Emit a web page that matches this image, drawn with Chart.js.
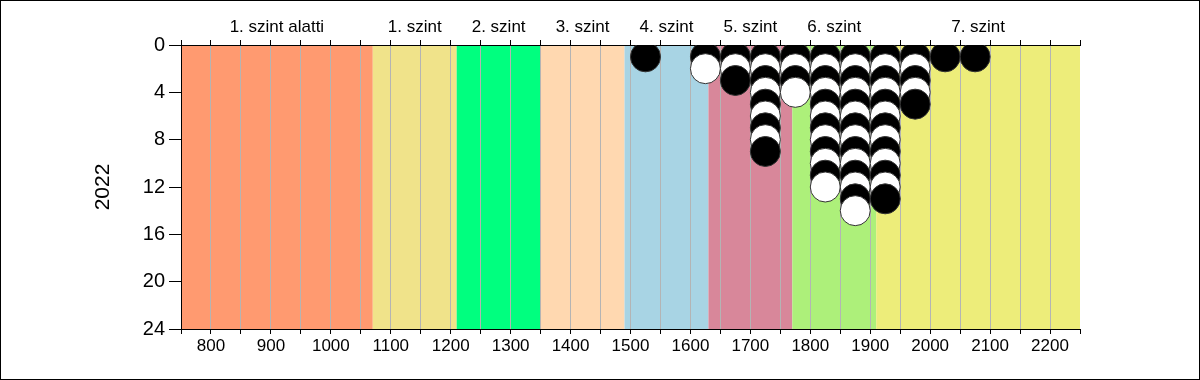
<!DOCTYPE html>
<html>
<head>
<meta charset="utf-8">
<script src="https://cdn.jsdelivr.net/npm/chart.js@4/dist/chart.umd.min.js"></script>
<style>
html,body{margin:0;padding:0;background:#fff;}
canvas{display:block;}
</style>
</head>
<body>
<canvas id="c" width="1200" height="380"></canvas>
<script>
// ---- data ----
const bandNames = ["1. szint alatti", "1. szint", "2. szint", "3. szint", "4. szint", "5. szint", "6. szint", "7. szint"];
const bandStarts = [750, 1070, 1210, 1350, 1490, 1630, 1770, 1910];
const bandEnds   = [1070, 1210, 1350, 1490, 1630, 1770, 1910, 2250];
const bandColors = ["#FF9A70", "#F0E38A", "#00FF7F", "#FFD8B0", "#A8D4E4", "#D8879A", "#ADF07A", "#EDED7A"];
const scoreBins   = [1525, 1625, 1675, 1725, 1775, 1825, 1875, 1925, 1975, 2025, 2075];
const studentCounts = [1, 2, 3, 9, 4, 12, 14, 13, 5, 1, 1];
const xTickValues = [800, 900, 1000, 1100, 1200, 1300, 1400, 1500, 1600, 1700, 1800, 1900, 2000, 2100, 2200];
const yTickValues = [0, 4, 8, 12, 16, 20, 24];
const yTitle = "2022";

// stacked dots: one dot per student, stacked upward from 1
const points = [], fills = [];
scoreBins.forEach((x, i) => {
  for (let k = 1; k <= studentCounts[i]; k++) {
    points.push({x: x, y: k});
    fills.push(k % 2 === 1 ? "#000000" : "#FFFFFF");
  }
});
const bandCenters = bandStarts.map((s, i) => (s + bandEnds[i]) / 2);

const FONT = "'Liberation Sans', Arial, sans-serif";

const bandPlugin = {
  id: 'bands',
  beforeDraw(chart) {
    const {ctx, chartArea, scales} = chart;
    const x = scales.x;
    ctx.save();
    bandStarts.forEach((s, i) => {
      const l = x.getPixelForValue(s), r = x.getPixelForValue(bandEnds[i]);
      ctx.fillStyle = bandColors[i];
      ctx.fillRect(l, chartArea.top, r - l, chartArea.bottom - chartArea.top);
    });
    ctx.restore();
  },
  afterDraw(chart) {
    const ctx = chart.ctx;
    ctx.save();
    ctx.strokeStyle = '#000';
    ctx.lineWidth = 1;
    ctx.strokeRect(0.5, 0.5, chart.width - 1, chart.height - 1);
    ctx.restore();
  }
};

new Chart(document.getElementById('c'), {
  type: 'scatter',
  data: {
    datasets: [{
      data: points,
      pointRadius: 15,
      pointHoverRadius: 15,
      pointBackgroundColor: fills,
      pointBorderColor: '#333333',
      pointBorderWidth: 1
    }]
  },
  options: {
    responsive: false,
    animation: false,
    events: [],
    layout: {padding: {left: 91, right: 120, top: 0, bottom: 0}},
    plugins: {legend: {display: false}, tooltip: {enabled: false}},
    scales: {
      x: {
        type: 'linear', position: 'bottom', min: 750, max: 2250,
        afterBuildTicks(axis) {
          const t = [];
          for (let v = 750; v <= 2250; v += 50) t.push({value: v});
          axis.ticks = t;
        },
        ticks: {
          autoSkip: false, maxRotation: 0, padding: 2,
          color: '#000', font: {family: FONT, size: 17},
          callback: (v) => xTickValues.includes(v) ? String(v) : ''
        },
        grid: {
          color: (c) => (c.tick && (c.tick.value === 750 || c.tick.value === 2250)) ? 'rgba(0,0,0,0)' : '#B4B4B4',
          tickColor: '#000', tickLength: 5, lineWidth: 1
        },
        border: {color: '#000', width: 1},
        afterFit(s) { s.height = 51; }
      },
      xTop: {
        type: 'linear', position: 'top', min: 750, max: 2250,
        afterBuildTicks(axis) {
          const t = [];
          for (let v = 750; v <= 2250; v += 50) t.push({value: v});
          bandCenters.forEach(v => { if (v % 50 !== 0) t.push({value: v}); });
          t.sort((a, b) => a.value - b.value);
          axis.ticks = t;
        },
        ticks: {
          autoSkip: false, maxRotation: 0, padding: 2,
          color: '#000', font: {family: FONT, size: 17},
          callback: (v) => { const i = bandCenters.indexOf(v); return i >= 0 ? bandNames[i] : ''; }
        },
        grid: {
          drawOnChartArea: false, tickLength: 5,
          tickColor: (c) => (c.tick && c.tick.value % 50 !== 0) ? 'rgba(0,0,0,0)' : '#000'
        },
        border: {color: '#000', width: 1},
        afterFit(s) { s.height = 45; }
      },
      y: {
        type: 'linear', position: 'left', reverse: true, min: 0, max: 24,
        afterBuildTicks(axis) { axis.ticks = yTickValues.map(v => ({value: v})); },
        ticks: {color: '#000', font: {family: FONT, size: 20}, padding: 4},
        grid: {drawOnChartArea: false, tickColor: '#000', tickLength: 12},
        border: {color: '#000', width: 1},
        title: {display: true, text: yTitle, color: '#000', font: {family: FONT, size: 21}, padding: 0},
        afterFit(s) { s.width = 90; }
      }
    }
  },
  plugins: [bandPlugin]
});
</script>
</body>
</html>
